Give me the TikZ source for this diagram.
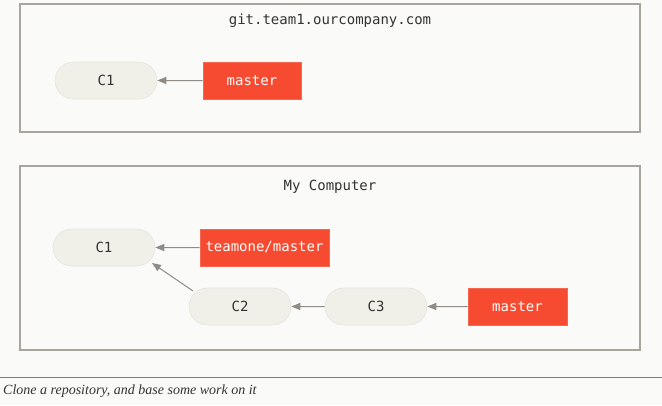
\documentclass[tikz,border=0pt]{standalone}
\usepackage{fontspec}
\setmonofont{DejaVu Sans Mono}
\newfontfamily\captionfont{Liberation Serif}
\usetikzlibrary{arrows.meta,shapes.misc,calc}
\definecolor{bgcol}{HTML}{FAFAF8}
\definecolor{framecol}{HTML}{A8A59F}
\definecolor{commitfill}{HTML}{F0EFE8}
\definecolor{commitedge}{HTML}{E6E5DE}
\definecolor{refred}{HTML}{F64B31}
\definecolor{arrowcol}{HTML}{8F8B86}
\definecolor{textcol}{HTML}{333333}
\tikzset{
  x=1pt, y=-1pt,
  area/.style={draw=framecol, line width=1.2pt, fill=bgcol},
  areatitle/.style={font=\ttfamily\fontsize{14}{16}\selectfont, text=textcol},
  commit/.style={rounded rectangle, fill=commitfill, draw=commitedge, line width=0.6pt,
    minimum width=102pt, minimum height=37pt, inner sep=0pt,
    font=\ttfamily\fontsize{14}{16}\selectfont, text=textcol},
  ref/.style={rectangle, fill=refred, draw=refred!85!white, line width=0.6pt,
    minimum height=37pt, inner sep=0pt,
    font=\ttfamily\fontsize{14}{16}\selectfont, text=white},
  link/.style={draw=arrowcol, line width=1pt, -{Triangle[length=9pt,width=7pt]}},
}
\begin{document}
\begin{tikzpicture}
  % page background and extent
  \fill[bgcol] (0,0) rectangle (662,405);
  \useasboundingbox (0,0) rectangle (662,405);

  % remote server
  \draw[area] (20,4) rectangle (640,132);
  \node[areatitle] (remotetitle) at (330,21) {git.team1.ourcompany.com};
  \node[commit] (rc1) at (106,80.5) {C1};
  \node[ref, minimum width=98pt] (rmaster) at (252,80.5) {master};
  \draw[link] (rmaster) -- (rc1);

  % local machine
  \draw[area] (20,166) rectangle (640,350);
  \node[areatitle] (localtitle) at (330,187) {My Computer};
  \node[commit] (c1) at (104,247.5) {C1};
  \node[ref, minimum width=129pt] (origin) at (264.5,247.5) {teamone/master};
  \node[commit] (c2) at (240,306.5) {C2};
  \node[commit] (c3) at (376,306.5) {C3};
  \node[ref, minimum width=99pt] (lmaster) at (517.5,306.5) {master};
  \draw[link] (origin) -- (c1);
  \coordinate (c2tail) at ($(c2)+(-47,-15.5)$);
  \coordinate (c1head) at ($(c1)+(48,15.5)$);
  \draw[link] (c2tail) -- (c1head);
  \draw[link] (c3) -- (c2);
  \draw[link] (lmaster) -- (c3);

  % caption
  \draw[draw=arrowcol!90!black, line width=0.8pt] (0,377) -- (662,377);
  \node[anchor=west, inner sep=0pt, text=textcol,
        font=\captionfont\itshape\fontsize{14}{16}\selectfont] (caption) at (3,391)
        {Clone a repository, and base some work on it};
\end{tikzpicture}
\end{document}
